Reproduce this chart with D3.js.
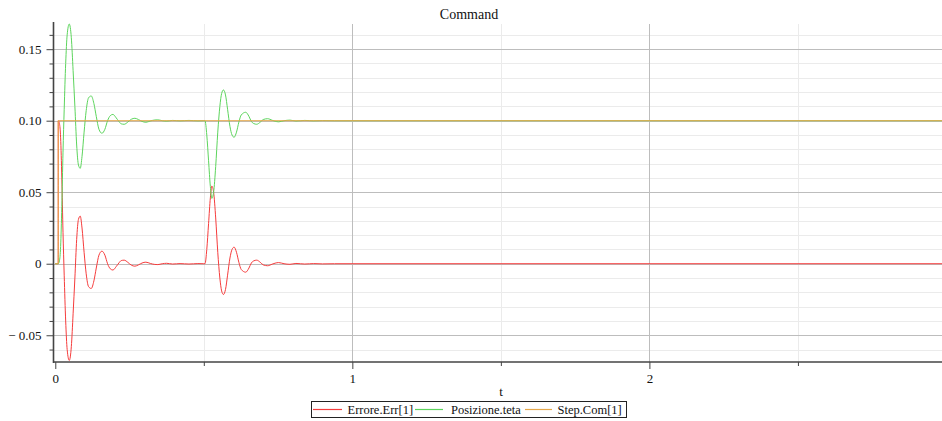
<!DOCTYPE html>
<html>
<head>
<meta charset="utf-8">
<script src="https://cdn.jsdelivr.net/npm/d3@7"></script>
<style>
  html, body { margin: 0; padding: 0; background: #fff; }
  svg { display: block; }
  svg text { font-family: "Liberation Serif", "DejaVu Serif", serif; }
</style>
</head>
<body>
<svg id="chart" width="942" height="421"></svg>
<script>
// Simulation output: command step, position response and tracking error
const errT = [0, 0.0099, 0.010, 0.014, 0.018, 0.022, 0.026, 0.030, 0.035, 0.040, 0.047, 0.054, 0.060, 0.066, 0.072,
  0.078, 0.084, 0.090, 0.097, 0.104, 0.112, 0.121, 0.130, 0.138, 0.147, 0.157, 0.167, 0.176, 0.185, 0.194,
  0.205, 0.214, 0.222, 0.232, 0.244, 0.256, 0.268, 0.280, 0.292, 0.305, 0.320, 0.335, 0.345, 0.360, 0.375,
  0.395, 0.420, 0.450, 0.480, 0.500, 0.504, 0.510, 0.516, 0.522, 0.527, 0.533, 0.540, 0.547, 0.554, 0.560,
  0.566, 0.573, 0.580, 0.588, 0.595, 0.602, 0.610, 0.618, 0.626, 0.641, 0.652, 0.660, 0.668, 0.678, 0.690,
  0.700, 0.715, 0.730, 0.740, 0.752, 0.770, 0.790, 0.810, 0.840, 0.870, 0.900, 0.940, 3.0];
const errV = [0, 0, 0.100, 0.098, 0.088, 0.060, 0.022, -0.008, -0.040, -0.060, -0.0676, -0.058, -0.035, -0.010, 0.017,
  0.031, 0.0333, 0.025, 0.008, -0.007, -0.016, -0.0173, -0.012, -0.003, 0.006, 0.0088, 0.006, 0.000, -0.0035, -0.0044,
  -0.002, 0.0005, 0.0022, 0.0025, 0.0010, -0.0010, -0.0017, -0.0008, 0.0005, 0.0011, 0.0002, -0.0005, -0.0006, 0.0000, 0.0003,
  -0.0002, 0.0001, -0.0002, 0.0001, 0, 0, 0.010, 0.028, 0.046, 0.0543, 0.050, 0.032, 0.008, -0.010, -0.019,
  -0.0215, -0.018, -0.008, 0.004, 0.010, 0.0116, 0.008, 0.001, -0.004, -0.0059, -0.003, 0.0005, 0.0020, 0.0025, 0.0010,
  -0.0008, -0.0014, -0.0003, 0.0004, 0.0008, 0.0000, -0.0004, 0.0002, -0.0002, 0.0001, -0.0001, 0, 0];

const posT = [0, 0.010, 0.014, 0.018, 0.022, 0.026, 0.030, 0.035, 0.040, 0.047, 0.054, 0.060, 0.066, 0.072,
  0.078, 0.084, 0.090, 0.097, 0.104, 0.112, 0.121, 0.130, 0.138, 0.147, 0.157, 0.167, 0.176, 0.185, 0.194,
  0.205, 0.214, 0.222, 0.232, 0.244, 0.256, 0.268, 0.280, 0.292, 0.305, 0.320, 0.335, 0.345, 0.360, 0.375,
  0.395, 0.420, 0.450, 0.480, 0.500, 0.504, 0.510, 0.516, 0.522, 0.527, 0.533, 0.540, 0.547, 0.554, 0.560,
  0.566, 0.573, 0.580, 0.588, 0.595, 0.602, 0.610, 0.618, 0.626, 0.641, 0.652, 0.660, 0.668, 0.678, 0.690,
  0.700, 0.715, 0.730, 0.740, 0.752, 0.770, 0.790, 0.810, 0.840, 0.870, 0.900, 0.940, 3.0];
const posV = [0, 0, 0.002, 0.012, 0.040, 0.078, 0.108, 0.140, 0.160, 0.1676, 0.158, 0.135, 0.110, 0.083,
  0.069, 0.0667, 0.075, 0.092, 0.107, 0.116, 0.1173, 0.112, 0.103, 0.094, 0.0912, 0.094, 0.100, 0.1035, 0.1044,
  0.102, 0.0995, 0.0978, 0.0975, 0.0990, 0.1010, 0.1017, 0.1008, 0.0995, 0.0989, 0.0998, 0.1005, 0.1006, 0.1000, 0.0997,
  0.1002, 0.0999, 0.1002, 0.0999, 0.1000, 0.1000, 0.090, 0.072, 0.054, 0.0457, 0.050, 0.068, 0.092, 0.110, 0.119,
  0.1215, 0.118, 0.108, 0.096, 0.090, 0.0884, 0.092, 0.099, 0.104, 0.1059, 0.103, 0.0995, 0.098, 0.0975, 0.099,
  0.1008, 0.1014, 0.1003, 0.0996, 0.0992, 0.1000, 0.1004, 0.0998, 0.1002, 0.0999, 0.1001, 0.1000, 0.1000];

const stepT = [0, 0.0099, 0.010, 3.0];
const stepV = [0, 0, 0.100, 0.100];

const seriesNames = ["Errore.Err[1]", "Posizione.teta", "Step.Com[1]"];
const seriesColors = ["#f53c3c", "#5cd45c", "#e6a84a"];

const xMajor = [0, 1, 2];
const xMinor = [0.5, 1.5, 2.5];
const yMajor = [-0.05, 0, 0.05, 0.10, 0.15];
const yMajorLabels = ["\u2212 0.05", "0", "0.05", "0.10", "0.15"];
const yMinor = [-0.06, -0.04, -0.03, -0.02, -0.01, 0.01, 0.02, 0.03, 0.04, 0.06, 0.07, 0.08, 0.09,
  0.11, 0.12, 0.13, 0.14, 0.16];

const svg = d3.select("#chart");
const pL = 53.5, pR = 942, pT = 24, pB = 362;
const serif = "'Liberation Serif', 'DejaVu Serif', serif";

const x = d3.scaleLinear().domain([-0.006, 2.985]).range([pL, pR]);
const y = d3.scaleLinear().domain([-0.0687, 0.1676]).range([pB, pT]);
const snap = v => Math.round(v) + 0.5;

// grid
const grid = svg.append("g");
grid.selectAll(".ymin").data(yMinor).join("line")
  .attr("x1", pL).attr("x2", pR)
  .attr("y1", d => snap(y(d))).attr("y2", d => snap(y(d)))
  .attr("stroke", "#ebebeb").attr("stroke-width", 1);
grid.selectAll(".xmin").data(xMinor).join("line")
  .attr("y1", pT).attr("y2", pB)
  .attr("x1", d => snap(x(d))).attr("x2", d => snap(x(d)))
  .attr("stroke", "#ebebeb").attr("stroke-width", 1);
grid.selectAll(".ymaj").data(yMajor).join("line")
  .attr("x1", pL).attr("x2", pR)
  .attr("y1", d => snap(y(d))).attr("y2", d => snap(y(d)))
  .attr("stroke", "#bdbdbd").attr("stroke-width", 1);
grid.selectAll(".xmaj").data(xMajor.filter(d => d > 0)).join("line")
  .attr("y1", pT).attr("y2", pB)
  .attr("x1", d => snap(x(d))).attr("x2", d => snap(x(d)))
  .attr("stroke", "#bdbdbd").attr("stroke-width", 1);

// axes
const axisColor = "#444";
const yAxisMajor = svg.append("g").attr("transform", `translate(${pL},0)`)
  .call(d3.axisLeft(y).tickValues(yMajor).tickSize(7).tickPadding(5)
    .tickFormat((d, i) => yMajorLabels[i]));
const yAxisMinor = svg.append("g").attr("transform", `translate(${pL},0)`)
  .call(d3.axisLeft(y).tickValues(yMinor).tickSize(4).tickFormat(""));
const xAxisMajor = svg.append("g").attr("transform", `translate(0,${pB})`)
  .call(d3.axisBottom(x).tickValues(xMajor).tickSize(7).tickPadding(5).tickFormat(d3.format("d")));
const xAxisMinor = svg.append("g").attr("transform", `translate(0,${pB})`)
  .call(d3.axisBottom(x).tickValues(xMinor).tickSize(4).tickFormat(""));

[yAxisMajor, yAxisMinor, xAxisMajor, xAxisMinor].forEach(g => {
  g.attr("font-family", null);
  g.select(".domain").remove();
  g.selectAll(".tick line").attr("stroke", axisColor);
  g.selectAll(".tick text").attr("fill", "#111")
    .style("font-family", serif).style("font-size", "13px");
});

svg.append("line").attr("x1", pL).attr("x2", pL).attr("y1", pT - 2).attr("y2", pB + 1)
  .attr("stroke", axisColor).attr("stroke-width", 1.6);
svg.append("line").attr("x1", pL).attr("x2", pR).attr("y1", pB).attr("y2", pB)
  .attr("stroke", axisColor).attr("stroke-width", 1.6);

// series
svg.append("clipPath").attr("id", "plotclip").append("rect")
  .attr("x", pL).attr("y", pT - 3).attr("width", pR - pL).attr("height", pB - pT + 6);

const series = [
  { t: errT, v: errV, curve: d3.curveMonotoneX },
  { t: posT, v: posV, curve: d3.curveMonotoneX },
  { t: stepT, v: stepV, curve: d3.curveLinear }
];
const plot = svg.append("g").attr("clip-path", "url(#plotclip)");
series.forEach((s, i) => {
  const pts = s.t.map((t, k) => [t, s.v[k]]);
  plot.append("path")
    .attr("d", d3.line().x(d => x(d[0])).y(d => y(d[1])).curve(s.curve)(pts))
    .attr("fill", "none").attr("stroke", seriesColors[i]).attr("stroke-width", 1);
});

// title and axis label
svg.append("text").attr("x", 469).attr("y", 19).attr("text-anchor", "middle")
  .style("font-family", serif).style("font-size", "14px").attr("fill", "#111").text("Command");
svg.append("text").attr("x", 501).attr("y", 396).attr("text-anchor", "middle")
  .style("font-family", serif).style("font-size", "13px").attr("fill", "#111").text("t");

// legend
const legend = svg.append("g");
legend.append("rect").attr("x", 311.5).attr("y", 401.5).attr("width", 315).attr("height", 16)
  .attr("fill", "#fff").attr("stroke", "#222").attr("stroke-width", 1);
const legendItems = [
  { x1: 313, x2: 342, tx: 347.5 },
  { x1: 415, x2: 443, tx: 451 },
  { x1: 525, x2: 552, tx: 557.5 }
];
legendItems.forEach((it, i) => {
  legend.append("line").attr("x1", it.x1).attr("x2", it.x2).attr("y1", 409.5).attr("y2", 409.5)
    .attr("stroke", seriesColors[i]).attr("stroke-width", 1.2);
  legend.append("text").attr("x", it.tx).attr("y", 414)
    .style("font-family", serif).style("font-size", "12.5px")
    .attr("fill", "#111").text(seriesNames[i]);
});
</script>
</body>
</html>
